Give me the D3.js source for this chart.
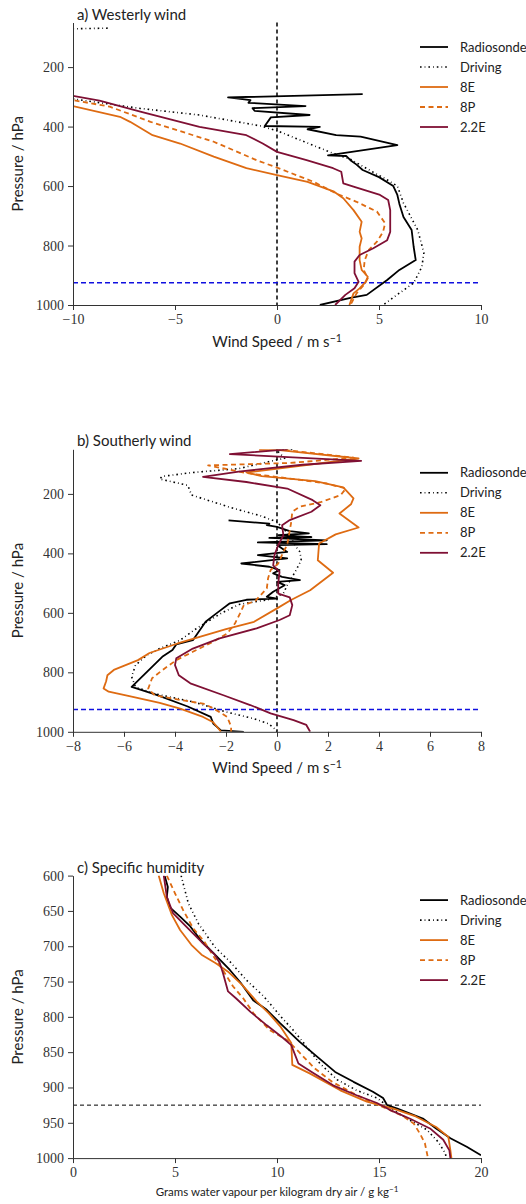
<!DOCTYPE html>
<html>
<head>
<meta charset="utf-8">
<script src="https://cdn.jsdelivr.net/npm/d3@7"></script>
<style>
  body { margin: 0; background: #fff; }
  .axis path, .axis line { stroke: #333; }
  .sans { font-family: Lato, "Open Sans", sans-serif; fill: #222; }
  svg .axis .tick text { font-family: "Liberation Serif", "Times New Roman", serif !important; font-size: 14px; fill: #333; }
</style>
</head>
<body>
<div id="chart"></div>
<script>
// ---- data: [value, pressure hPa] ----

// a) westerly wind, m/s
const westRadiosonde = [[4.2,291],[-2.4,302],[-1.3,311],[-1.4,320],[1.4,331],[-1.2,338],[-1.1,347],[1.6,361],[-0.3,369],[-0.6,398],[2.1,401],[1.5,409],[2.9,429],[4.1,434],[5.9,462],[2.5,497],[3.4,499],[3.6,513],[3.9,528],[4.2,546],[5.0,570],[5.7,600],[5.9,630],[6.0,660],[6.2,704],[6.6,748],[6.7,805],[6.8,849],[6.0,882],[5.4,916],[4.4,966],[3.6,976],[2.1,1000]];
const westDriving = [[-8.3,69],[-25,90],[-30,200],[-12,300],[-10,307],[-6.7,339],[-3.8,361],[-0.8,398],[0,414],[2.75,490],[3.6,510],[4.7,553],[5.3,575],[5.9,600],[6.2,657],[6.9,748],[7.2,825],[7.1,872],[6.7,926],[6.0,960],[5.2,1000]];
const west8E = [[-12,318],[-10,331],[-7.7,367],[-7.2,384],[-6.1,429],[-4.75,457],[-3.1,501],[-1.5,540],[0,563],[1.5,586],[2.8,619],[3.25,641],[3.75,681],[4.15,720],[4.05,754],[4.15,776],[4.05,804],[4.05,849],[4.15,882],[4.45,905],[4.35,922],[4.05,944],[3.75,961],[3.55,1000]];
const west8P = [[-12,300],[-10,311],[-8.2,333],[-6.2,384],[-3.1,451],[-1.0,513],[0,538],[1.8,586],[2.9,625],[3.9,653],[4.9,686],[5.3,725],[5.2,754],[4.9,787],[4.5,815],[4.3,849],[4.25,882],[4.45,910],[4.25,933],[3.9,961],[3.6,1000]];
const west22E = [[-12,290],[-10,297],[-8.7,313],[-6.7,350],[-3.8,401],[-1.5,429],[-0.7,457],[0,485],[1.45,513],[2.75,540],[3.15,552],[3.25,591],[3.75,602],[5.05,630],[5.45,647],[5.55,681],[5.55,754],[5.4,782],[4.7,810],[4.05,832],[3.8,854],[3.8,893],[4.0,922],[3.8,944],[3.35,966],[2.85,1000]];

// b) southerly wind, m/s
const southRadiosonde = [[-1.9,289],[-0.3,300],[-0.4,305],[0,311],[0.5,325],[1.25,333],[0.05,339],[1.35,345],[-0.3,348],[1.95,356],[-0.75,363],[1.95,369],[0,372],[0.4,395],[-0.75,406],[0.4,417],[-1.4,434],[-0.3,445],[0.1,456],[-0.15,467],[0.2,479],[0.9,490],[0,496],[0.3,507],[-0.15,529],[-0.4,546],[0,552],[-1.2,556],[-1.85,568],[-2.35,600],[-2.8,630],[-3.3,692],[-3.95,706],[-4.1,725],[-4.5,748],[-5.7,849],[-4.75,875],[-3.5,915],[-2.6,950],[-2.5,972],[-2.2,995],[-1.3,1000]];
const southDriving = [[0.6,50],[0,54],[0.3,80],[-0.5,95],[-1.5,115],[-3.3,128],[-4.5,141],[-4.6,150],[-3.5,171],[-3.35,204],[-2.5,227],[-1.7,249],[-0.7,272],[0,294],[0.5,340],[0.75,378],[0.9,395],[0.95,423],[0.75,456],[0.6,479],[0.4,507],[0.25,535],[-0.3,555],[-1.5,572],[-2.2,602],[-3.15,652],[-3.8,692],[-4.6,720],[-5.1,742],[-5.55,776],[-5.7,815],[-5.55,849],[-4.85,871],[-3.3,899],[-2.0,933],[-0.95,955],[-0.35,972],[-0.1,989],[0,1000]];
const south8E = [[-0.7,52],[0.1,53],[3.2,81],[-1.2,128],[-0.6,140],[1.5,157],[2.6,178],[3.0,215],[2.9,235],[2.45,266],[3.2,313],[2.3,336],[1.65,367],[1.6,423],[2.2,465],[1.3,524],[0.55,557],[0,585],[-0.9,630],[-2.0,655],[-3.0,680],[-3.9,703],[-5.0,735],[-5.45,759],[-6.4,792],[-6.65,810],[-6.7,830],[-6.8,854],[-6.6,865],[-5.7,882],[-4.6,903],[-3.8,922],[-2.9,950],[-2.5,968],[-2.25,994],[-2.2,1000]];
const south8P = [[0.3,52],[3.0,78],[0.5,96],[-2.7,104],[-1.2,130],[1.0,154],[1.95,165],[2.7,182],[2.5,204],[1.7,228],[0.9,243],[0.6,260],[0.55,299],[0.4,372],[0.25,395],[0.05,434],[-0.25,456],[-0.35,484],[-0.4,518],[-0.85,560],[-1.3,574],[-1.45,602],[-1.65,636],[-1.95,669],[-2.5,697],[-3.3,731],[-3.95,759],[-4.5,793],[-4.9,820],[-5.05,855],[-4.8,877],[-3.8,893],[-2.9,905],[-2.5,921],[-1.95,950],[-1.8,983],[-1.8,1000]];
const south22E = [[0.4,50],[-1.85,66],[3.3,89],[1.0,102],[-1.5,125],[-2.9,143],[-1.2,160],[0.4,182],[1.4,221],[1.7,238],[1.35,260],[0.5,288],[0.2,305],[0.25,339],[0.05,372],[-0.1,406],[-0.15,440],[0.1,462],[0.05,501],[0.05,535],[0.5,548],[0.6,574],[0.5,608],[0.1,624],[-0.8,652],[-2.25,686],[-3.3,720],[-3.95,753],[-4.0,776],[-3.85,810],[-3.4,837],[-2.1,877],[-1.05,910],[-0.25,938],[0.65,961],[1.15,977],[1.3,1000]];

// c) specific humidity, g/kg
const humRadiosonde = [[4.5,601],[4.65,616],[4.6,630],[4.75,645],[5.25,658],[5.75,672],[6.25,691],[6.9,710],[7.7,734],[8.2,751],[8.85,777],[9.5,790],[10.15,809],[11.1,835],[11.95,856],[12.85,878],[13.75,892],[14.7,906],[15.2,915],[15.4,925],[15.9,930],[17.15,944],[17.8,958],[18.5,972],[19.3,984],[20.0,996]];
const humDriving = [[5.3,600],[5.65,639],[6.15,668],[6.95,701],[7.7,722],[8.5,748],[9.35,771],[10.2,800],[10.8,819],[11.45,842],[12.1,866],[12.95,889],[13.9,904],[14.9,915],[15.7,932],[16.5,946],[17.35,960],[17.9,977],[18.25,993],[18.3,1000]];
const hum8E = [[4.2,600],[4.45,625],[4.85,656],[5.25,677],[5.8,698],[6.3,712],[7.0,724],[7.6,736],[8.3,755],[9.0,778],[9.6,795],[10.2,815],[10.7,837],[10.75,868],[11.6,880],[13.1,904],[14.4,920],[15.7,930],[16.8,941],[17.8,956],[18.4,970],[18.5,989],[18.55,1000]];
const hum8P = [[4.6,600],[5.0,625],[5.4,649],[5.9,675],[6.45,694],[6.95,717],[7.35,734],[7.85,757],[8.35,774],[8.85,795],[9.65,819],[10.5,833],[11.05,849],[11.85,873],[12.7,892],[13.6,906],[14.55,920],[15.55,932],[16.2,941],[16.7,951],[17.0,965],[17.25,979],[17.4,1000]];
const hum22E = [[4.45,600],[4.6,630],[4.9,653],[5.65,675],[6.3,694],[6.95,712],[7.2,724],[7.35,738],[7.6,764],[8.0,774],[8.7,793],[9.5,812],[10.3,830],[10.7,840],[11.05,866],[11.7,878],[12.75,897],[13.9,911],[14.9,922],[15.55,932],[16.5,944],[17.5,958],[18.15,974],[18.45,989],[18.5,1000]];

const seriesNames = ["Radiosonde", "Driving", "8E", "8P", "2.2E"];
const windTicksA = [-10, -5, 0, 5, 10];
const windTicksB = [-8, -6, -4, -2, 0, 2, 4, 6, 8];
const humTicks = [0, 5, 10, 15, 20];
const pressureTicksWind = [200, 400, 600, 800, 1000];
const pressureTicksHum = [600, 650, 700, 750, 800, 850, 900, 950, 1000];
const boundaryLayerTop = 925;

// line styles per series
const styles = {
  "Radiosonde": { color: "#000", dash: null, width: 1.8 },
  "Driving": { color: "#000", dash: "1.6,3,0.8,3", width: 1.6 },
  "8E": { color: "#de6b12", dash: null, width: 1.8 },
  "8P": { color: "#de6b12", dash: "5,3.5", width: 1.8 },
  "2.2E": { color: "#7f1034", dash: null, width: 1.8 }
};

const svg = d3.select("#chart").append("svg")
  .attr("width", 526).attr("height", 1204);

function drawPanel(opts) {
  let width = 408, height = 282.5;
  let g = svg.append("g").attr("transform", "translate(73," + opts.top + ")");

  let x = d3.scaleLinear().domain(opts.xDomain).range([0, width]);
  let y = d3.scaleLinear().domain(opts.yDomain).range([0, height]);

  let clipId = "clip-" + opts.id;
  g.append("clipPath").attr("id", clipId)
    .append("rect").attr("x", 0).attr("y", 0).attr("width", width).attr("height", height);

  // reference lines
  if (opts.zeroLine) {
    g.append("line")
      .attr("x1", x(0)).attr("x2", x(0)).attr("y1", 0).attr("y2", height)
      .attr("stroke", "#000").attr("stroke-width", 1.5).attr("stroke-dasharray", "4,3");
  }
  g.append("line")
    .attr("x1", 0).attr("x2", width)
    .attr("y1", y(boundaryLayerTop)).attr("y2", y(boundaryLayerTop))
    .attr("stroke", opts.blColor).attr("stroke-width", opts.blWidth)
    .attr("stroke-dasharray", opts.blDash);

  let line = d3.line().x(d => x(d[0])).y(d => y(d[1]));

  let plot = g.append("g").attr("clip-path", "url(#" + clipId + ")");
  seriesNames.forEach((name, i) => {
    let s = styles[name];
    plot.append("path")
      .datum(opts.data[i])
      .attr("d", line)
      .attr("fill", "none")
      .attr("stroke", s.color)
      .attr("stroke-width", s.width)
      .attr("stroke-linejoin", "round")
      .attr("stroke-dasharray", s.dash);
  });

  // axes, left and bottom spines only
  let fmt = d3.format("d");
  let xAxis = d3.axisBottom(x).tickValues(opts.xTicks).tickFormat(fmt)
    .tickSize(5).tickPadding(4).tickSizeOuter(0);
  let yAxis = d3.axisLeft(y).tickValues(opts.yTicks).tickFormat(fmt)
    .tickSize(5).tickPadding(4).tickSizeOuter(0);
  let gx = g.append("g").attr("class", "axis").attr("transform", "translate(0," + height + ")").call(xAxis);
  let gy = g.append("g").attr("class", "axis").call(yAxis);
  [gx, gy].forEach(a => a.selectAll(".tick text")
    .style("font-family", "'Liberation Serif', serif")
    .style("font-size", "14px"));

  // title
  g.append("text").attr("class", "sans")
    .attr("x", 4).attr("y", -3)
    .style("font-size", "15px")
    .text(opts.title);

  // axis labels
  g.append("text").attr("class", "sans")
    .attr("transform", "translate(-50," + height / 2 + ") rotate(-90)")
    .attr("text-anchor", "middle")
    .style("font-size", "15px")
    .text("Pressure / hPa");

  let xl = g.append("text").attr("class", "sans")
    .attr("x", width / 2).attr("y", height + opts.xLabelDy)
    .attr("text-anchor", "middle")
    .style("font-size", opts.xLabelSize + "px");
  xl.append("tspan").text(opts.xLabel);
  xl.append("tspan").attr("dy", "-0.45em").style("font-size", "0.7em").text("−1");

  // legend
  let legend = g.append("g").attr("transform", "translate(347," + opts.legendTop + ")");
  seriesNames.forEach((name, i) => {
    let s = styles[name];
    let row = legend.append("g").attr("transform", "translate(0," + i * 20 + ")");
    row.append("line").attr("x1", 0).attr("x2", 28).attr("y1", 0).attr("y2", 0)
      .attr("stroke", s.color).attr("stroke-width", s.width)
      .attr("stroke-dasharray", s.dash);
    row.append("text").attr("class", "sans")
      .attr("x", 40).attr("y", 4.5)
      .style("font-size", "13px")
      .text(name);
  });
}

drawPanel({
  id: "a", top: 22.5, title: "a) Westerly wind",
  xDomain: [-10, 10], yDomain: [50, 1000], xTicks: windTicksA, yTicks: pressureTicksWind,
  data: [westRadiosonde, westDriving, west8E, west8P, west22E],
  zeroLine: true, blColor: "#1010e0", blWidth: 1.5, blDash: "5,3",
  xLabel: "Wind Speed / m s", xLabelDy: 42, xLabelSize: 15, legendTop: 24.5
});

drawPanel({
  id: "b", top: 449.3, title: "b) Southerly wind",
  xDomain: [-8, 8], yDomain: [50, 1000], xTicks: windTicksB, yTicks: pressureTicksWind,
  data: [southRadiosonde, southDriving, south8E, south8P, south22E],
  zeroLine: true, blColor: "#1010e0", blWidth: 1.5, blDash: "5,3",
  xLabel: "Wind Speed / m s", xLabelDy: 41, xLabelSize: 15, legendTop: 23.5
});

drawPanel({
  id: "c", top: 875.6, title: "c) Specific humidity",
  xDomain: [0, 20], yDomain: [600, 1000], xTicks: humTicks, yTicks: pressureTicksHum,
  data: [humRadiosonde, humDriving, hum8E, hum8P, hum22E],
  zeroLine: false, blColor: "#000", blWidth: 1, blDash: "4,3",
  xLabel: "Grams water vapour per kilogram dry air / g kg", xLabelDy: 38, xLabelSize: 11.5, legendTop: 24.5
});
</script>
</body>
</html>
